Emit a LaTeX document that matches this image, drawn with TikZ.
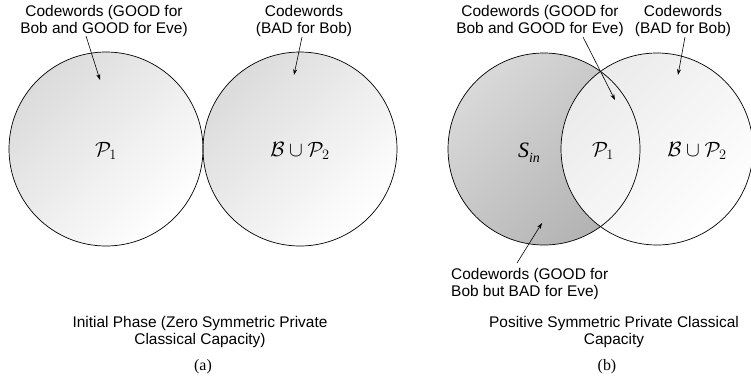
\documentclass[tikz,border=0pt]{standalone}
\usepackage{fontspec}
\setmainfont{Liberation Serif}
\setsansfont{Liberation Sans}
\usetikzlibrary{arrows.meta}
\tikzset{
  lbl/.style={font=\sffamily\fontsize{15.5}{18}\selectfont, align=center, inner sep=0pt},
  lbll/.style={font=\sffamily\fontsize{15.5}{18}\selectfont, align=left, inner sep=0pt},
  captext/.style={font=\rmfamily\fontsize{16}{18}\selectfont, inner sep=0pt},
  mth/.style={font=\fontsize{20}{22}\selectfont, inner sep=0pt},
  ptr/.style={-{Stealth[length=6bp,width=4bp]}, line width=0.6bp},
  ring/.style={draw=black, line width=0.7bp},
}
\begin{document}
\begin{tikzpicture}[x=1bp,y=-1bp]
\useasboundingbox (0,0) rectangle (751,377);
% panel (a)
\shade[top color=gray!28, bottom color=white, shading angle=45] (106,149) circle (97);
\shade[top color=gray!28, bottom color=white, shading angle=45] (300,149) circle (97);
\draw[ring] (106,149) circle (97);
\draw[ring] (300,149) circle (97);
\node[mth] (p1a) at (106,151) {$\mathcal{P}_1$};
\node[mth] (bpa) at (300,151) {$\mathcal{B}\cup\mathcal{P}_2$};
\node[lbl] (la1) at (104,21) {Codewords (GOOD for\\Bob and GOOD for Eve)};
\node[lbl] (la2) at (304,21) {Codewords\\(BAD for Bob)};
\coordinate (ea1) at (100,80);
\coordinate (ea2) at (294,75);
\draw[ptr] (86,36) -- (ea1);
\draw[ptr] (302,37) -- (ea2);
\node[lbl] (capa) at (200,332) {Initial Phase (Zero Symmetric Private\\Classical Capacity)};
\node[captext] (ta) at (203,367) {(a)};
% panel (b)
\shade[top color=gray!30, bottom color=gray!140!black, shading angle=45] (544,149) circle (96);
\shade[top color=gray!16, bottom color=white, shading angle=45] (657,149) circle (96);
\draw[ring] (544,149) circle (96);
\draw[ring] (657,149) circle (96);
\node[mth, font=\rmfamily\fontsize{22}{24}\selectfont] (sin) at (529,153) {\textit{S}\raisebox{-5bp}{\fontsize{14}{16}\selectfont\textit{in}}};
\node[mth] (p1b) at (603,151) {$\mathcal{P}_1$};
\node[mth] (bpb) at (697,151) {$\mathcal{B}\cup\mathcal{P}_2$};
\node[lbl] (lb1) at (540,21) {Codewords (GOOD for\\Bob and GOOD for Eve)};
\node[lbl] (lb2) at (683,21) {Codewords\\(BAD for Bob)};
\node[lbll, anchor=west] (lb3) at (451,284) {Codewords (GOOD for\\Bob but BAD for Eve)};
\coordinate (eb1) at (615,100);
\coordinate (eb2) at (678,75);
\coordinate (eb3) at (542,223);
\draw[ptr] (583,37) -- (eb1);
\draw[ptr] (685,37) -- (eb2);
\draw[ptr] (517,263) -- (eb3);
\node[lbl] (capb) at (614,332) {Positive Symmetric Private Classical\\Capacity};
\node[captext] (tb) at (607,367) {(b)};
\end{tikzpicture}
\end{document}
